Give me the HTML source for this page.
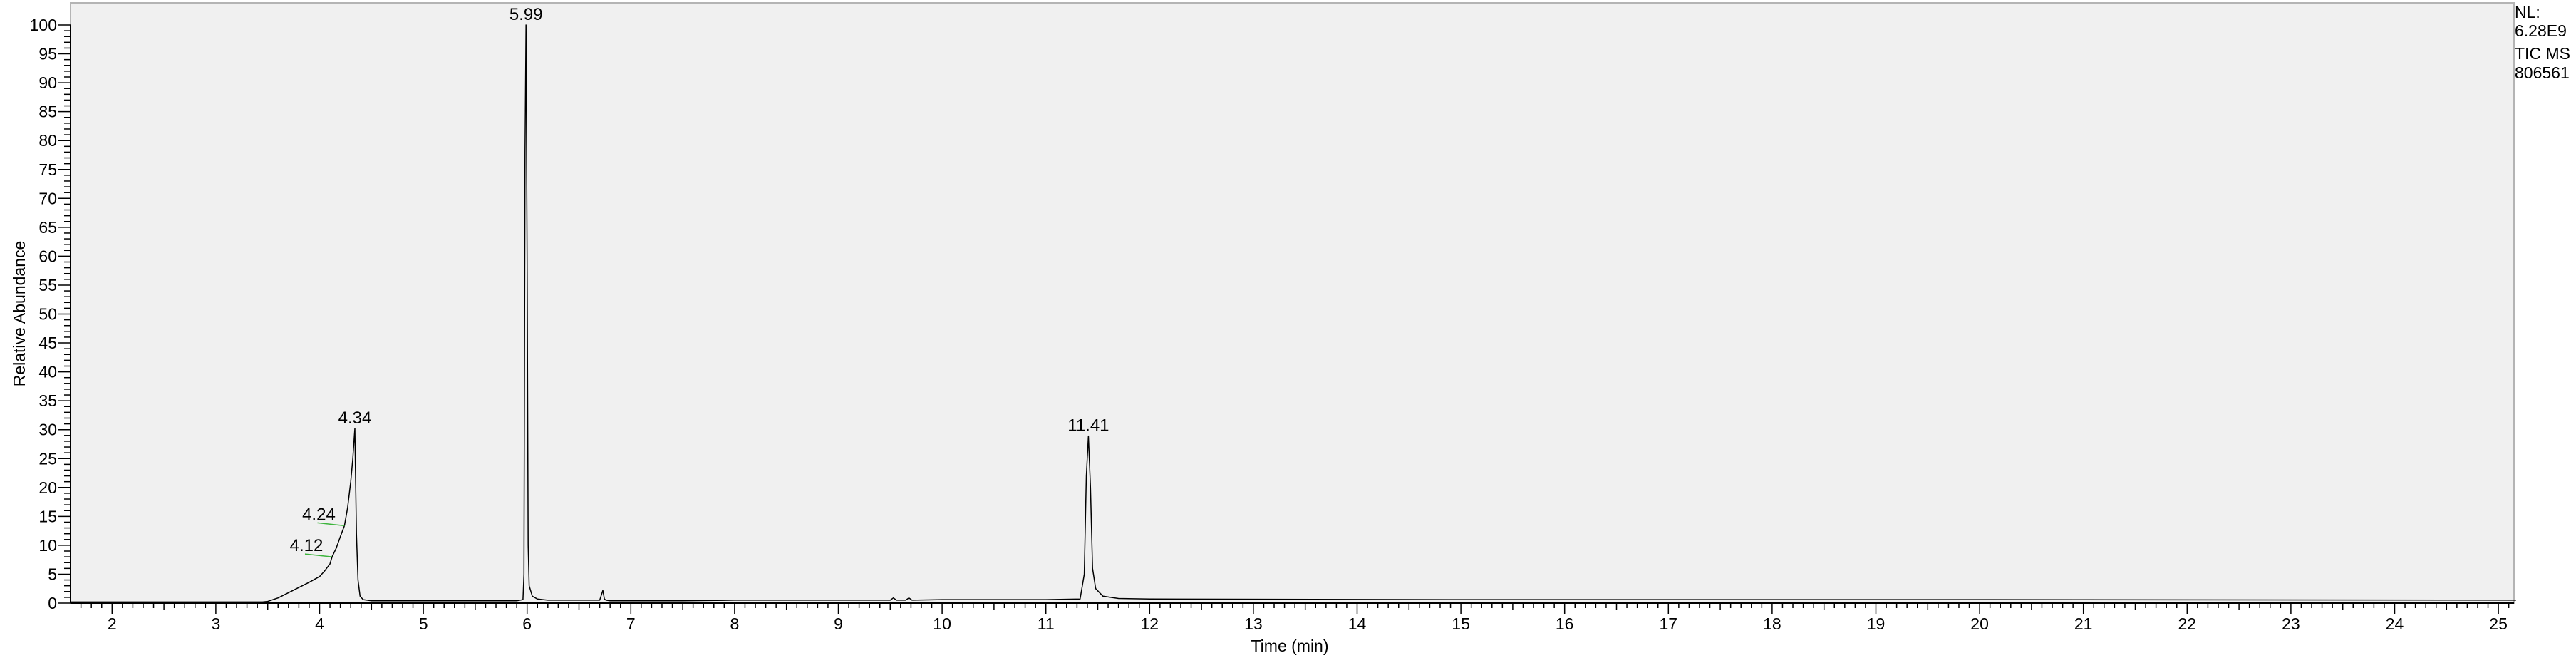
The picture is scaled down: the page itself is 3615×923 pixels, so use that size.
<!DOCTYPE html>
<html><head><meta charset="utf-8">
<style>
html,body{margin:0;padding:0;background:#fff;width:3615px;height:923px;overflow:hidden}
svg{display:block;font-family:"Liberation Sans",Arial,sans-serif}
</style></head>
<body>
<svg id="chart" width="3615" height="923" viewBox="0 0 3615 923" xmlns="http://www.w3.org/2000/svg">
<rect x="99" y="4" width="3429" height="842" fill="#f0f0f0" stroke="#b4b4b4" stroke-width="2"/>
<g id="axes"></g>
<path id="trace" fill="none" stroke="#000" stroke-width="1.5" stroke-linejoin="round"/>
<g id="labels"></g>
<text x="1810" y="914" font-size="23" text-anchor="middle">Time (min)</text>
<text transform="translate(35,440) rotate(-90)" font-size="23" text-anchor="middle">Relative Abundance</text>
<g font-size="23">
<text x="3529" y="25">NL:</text>
<text x="3529" y="51">6.28E9</text>
<text x="3529" y="83">TIC  MS</text>
<text x="3529" y="110">806561</text>
</g>
</svg>
<script>
const times=[1.6,3.0,3.45,3.5,3.6,3.7,3.8,3.9,4.0,4.05,4.1,4.12,4.16,4.2,4.24,4.27,4.3,4.32,4.335,4.34,4.345,4.355,4.37,4.39,4.42,4.5,5.5,5.9,5.96,5.97,5.98,5.99,6.0,6.01,6.02,6.05,6.1,6.2,6.7,6.73,6.745,6.76,6.8,7.5,8.0,9.5,9.53,9.56,9.65,9.68,9.71,10.0,11.0,11.33,11.37,11.39,11.41,11.43,11.45,11.48,11.55,11.7,12.0,15.0,20.0,25.17];
const abund=[0.2,0.2,0.2,0.3,0.9,1.8,2.7,3.6,4.6,5.6,6.8,8.0,9.5,11.5,13.4,16.5,21,25,29,30.2,24,12,4,1.2,0.6,0.4,0.4,0.4,0.6,5,78,100,60,10,3,1.2,0.7,0.5,0.5,2.2,0.7,0.5,0.4,0.4,0.5,0.5,0.9,0.5,0.5,0.9,0.5,0.6,0.6,0.7,5,22,28.9,20,6,2.5,1.2,0.8,0.7,0.6,0.6,0.5];
const peakLabels=["5.99","4.34","11.41","4.24","4.12"];
const peakTimes=[5.99,4.34,11.41,4.24,4.12];
const yTicks=[0,5,10,15,20,25,30,35,40,45,50,55,60,65,70,75,80,85,90,95,100];
const xTicks=[2,3,4,5,6,7,8,9,10,11,12,13,14,15,16,17,18,19,20,21,22,23,24,25];
const NS="http://www.w3.org/2000/svg";
const X=t=>739.7+(t-6)*145.6;
const Y=v=>846-v*8.11;
const axes=document.getElementById('axes');
function mk(tag,attrs,parent){const e=document.createElementNS(NS,tag);for(const k in attrs)e.setAttribute(k,attrs[k]);parent.appendChild(e);return e;}
const xl=mk('line',{x1:99,y1:846,x2:3528,y2:846,stroke:'#000','stroke-width':2},axes);


const yl=mk('line',{x1:99,y1:35,x2:99,y2:846,stroke:'#000','stroke-width':2},axes);


for(let v=0;v<=100;v++){const len=v%5===0?17:9;
 const tk=mk('line',{x1:99-len,y1:Y(v),x2:99,y2:Y(v),stroke:'#000','stroke-width':1.5},axes);
 
 }
yTicks.forEach(v=>{const t=mk('text',{x:80,y:Y(v)+8,'font-size':23,'text-anchor':'end'},axes);t.textContent=v;
 
 });
for(let i=16;i<=251;i++){const t=i/10;const x=X(t);if(x<100||x>3527)continue;
 const len=i%10===0?15:(i%5===0?10:7);
 const tk=mk('line',{x1:x,y1:846,x2:x,y2:846+len,stroke:'#000','stroke-width':1.5},axes);
 
 }
xTicks.forEach(v=>{const t=mk('text',{x:X(v),y:883,'font-size':23,'text-anchor':'middle'},axes);t.textContent=v;
 
 });
let d='';times.forEach((t,i)=>{d+=(i?'L':'M')+X(t).toFixed(1)+' '+Y(abund[i]).toFixed(1);});
document.getElementById('trace').setAttribute('d',d);
const lg=document.getElementById('labels');
function interp(t){for(let i=1;i<times.length;i++){if(times[i]>=t){const f=(t-times[i-1])/(times[i]-times[i-1]);return abund[i-1]+f*(abund[i]-abund[i-1]);}}return 0;}
peakLabels.forEach((s,i)=>{const t=peakTimes[i];
 if(i<3){const tx=mk('text',{x:X(t),y:Y(interp(t))-7,'font-size':24,'text-anchor':'middle'},lg);tx.textContent=s;
  
  }
 else{const py=Y(interp(t));const lx=X(t)-38;
  const ln=mk('line',{x1:lx,y1:py-4,x2:X(t),y2:py,stroke:'#3cb43c','stroke-width':1.5},lg);
  
  
  const tx=mk('text',{x:lx+2,y:py-8,'font-size':24,'text-anchor':'middle'},lg);tx.textContent=s;
  
  }
});
</script>
</body></html>
